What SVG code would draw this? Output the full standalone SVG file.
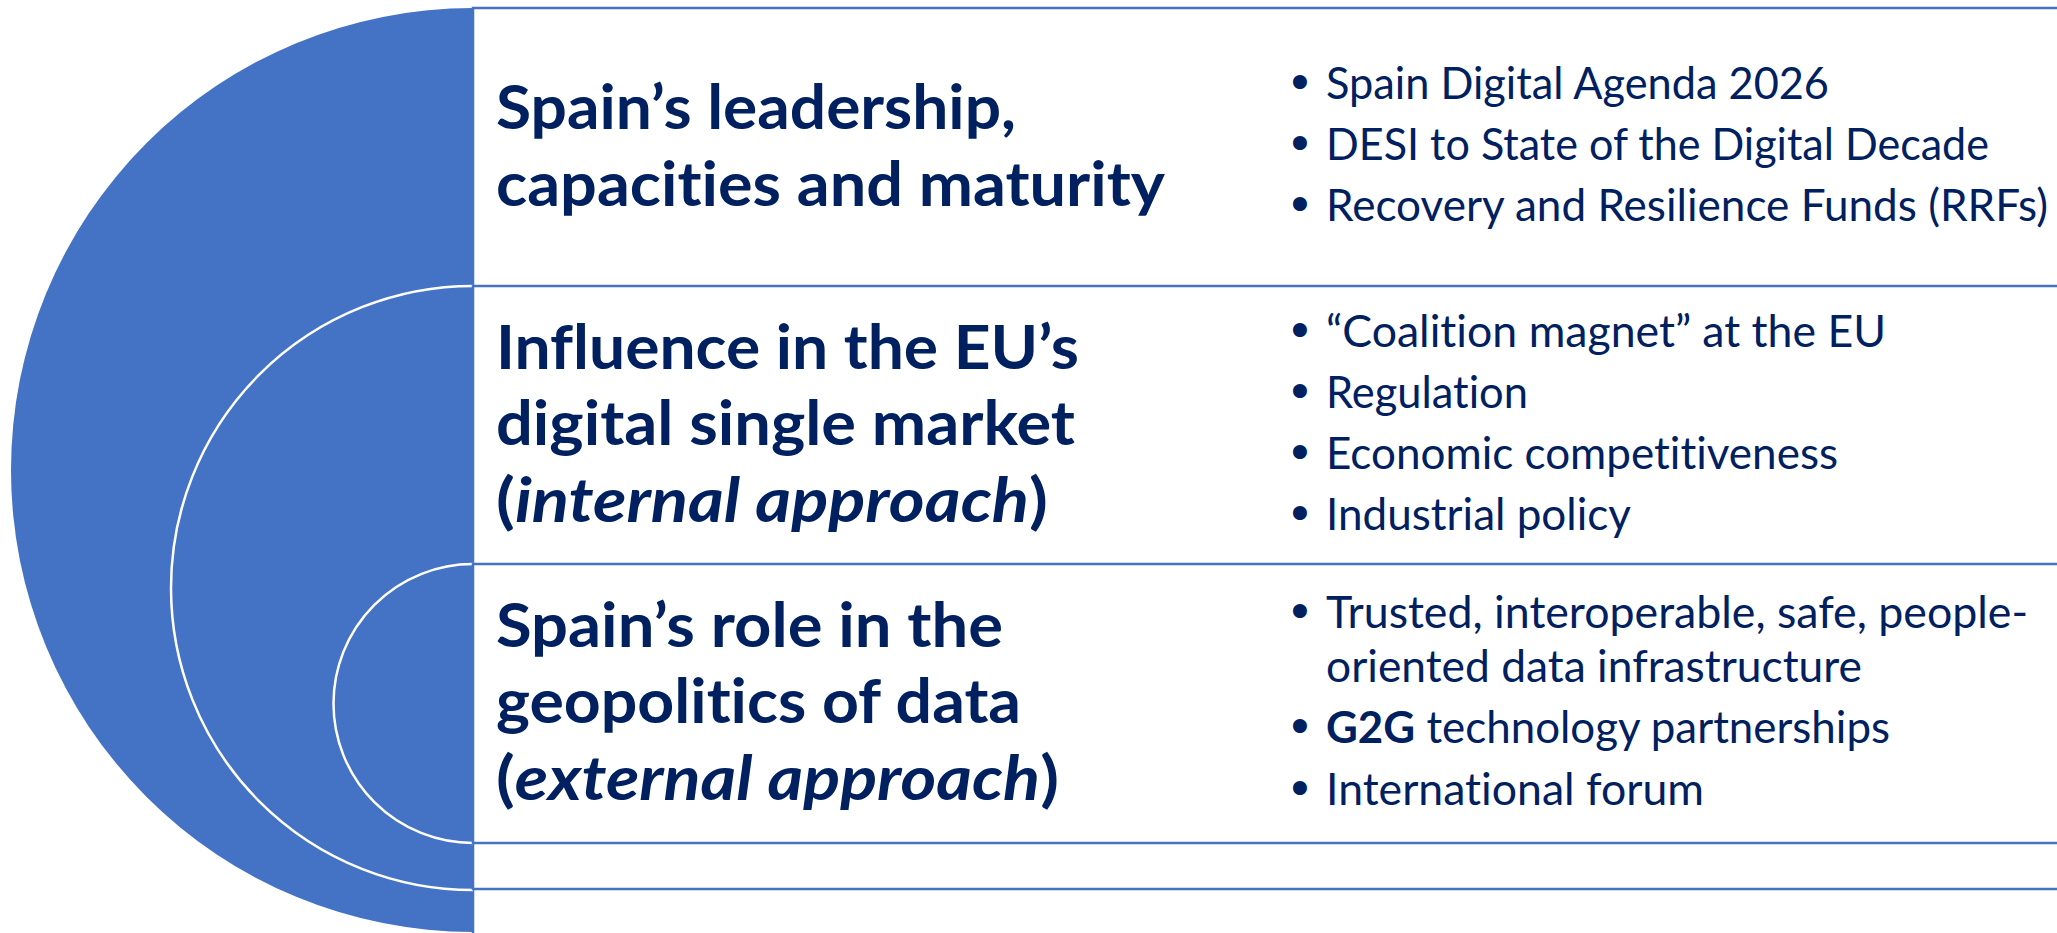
<svg xmlns="http://www.w3.org/2000/svg" width="2057" height="933" viewBox="0 0 2057 933">
<style>
.bg{fill:#ffffff}
.disc{fill:#4472C4;stroke:none}
.ring{fill:none;stroke:#ffffff;stroke-width:2.5}
.box{fill:#ffffff;stroke:#4472C4;stroke-width:2.5}
.h{font-family:Lato,"Open Sans","Liberation Sans",sans-serif;font-weight:700;font-size:62px;fill:#002060;font-variant-ligatures:none}
.h .it{font-style:italic}
.b{font-family:Lato,"Open Sans","Liberation Sans",sans-serif;font-weight:400;font-size:44px;fill:#002060;font-variant-ligatures:none}
.b .bd{font-weight:700}
.dot{font-family:"DejaVu Sans",sans-serif;font-size:48px;fill:#002060;text-anchor:middle}
</style>
<rect class="bg" x="0" y="0" width="2057" height="933"/>
<g id="node-leadership">
<path class="disc" d="M473,8 A462,462 0 0 0 473,932 Z"/>
<rect class="box" x="473" y="8" width="1700" height="960"/>
<text class="h" x="496" y="129" textLength="520" lengthAdjust="spacingAndGlyphs">Spain’s leadership,</text>
<text class="h" x="496" y="206" textLength="669" lengthAdjust="spacingAndGlyphs">capacities and maturity</text>
<text class="dot" x="1300" y="100">•</text>
<text class="b" x="1326" y="99" textLength="503" lengthAdjust="spacingAndGlyphs">Spain Digital Agenda 2026</text>
<text class="dot" x="1300" y="161">•</text>
<text class="b" x="1326" y="160" textLength="663" lengthAdjust="spacingAndGlyphs">DESI to State of the Digital Decade</text>
<text class="dot" x="1300" y="222">•</text>
<text class="b" x="1326" y="221" textLength="722" lengthAdjust="spacingAndGlyphs">Recovery and Resilience Funds (RRFs)</text>
</g>
<g id="node-internal">
<path class="disc" d="M473,286 A302,302 0 0 0 473,890 Z"/>
<path class="ring" d="M473,286 A302,302 0 0 0 473,890"/>
<rect class="box" x="473" y="286" width="1700" height="603"/>
<text class="h" x="496" y="369" textLength="583" lengthAdjust="spacingAndGlyphs">Influence in the EU’s</text>
<text class="h" x="496" y="445" textLength="579" lengthAdjust="spacingAndGlyphs">digital single market</text>
<text class="h" x="496" y="522" textLength="552" lengthAdjust="spacingAndGlyphs">(<tspan class="it">internal approach</tspan>)</text>
<text class="dot" x="1300" y="348">•</text>
<text class="b" x="1326" y="347" textLength="560" lengthAdjust="spacingAndGlyphs">“Coalition magnet” at the EU</text>
<text class="dot" x="1300" y="409">•</text>
<text class="b" x="1326" y="408" textLength="202" lengthAdjust="spacingAndGlyphs">Regulation</text>
<text class="dot" x="1300" y="470">•</text>
<text class="b" x="1326" y="469" textLength="512" lengthAdjust="spacingAndGlyphs">Economic competitiveness</text>
<text class="dot" x="1300" y="531">•</text>
<text class="b" x="1326" y="530" textLength="305" lengthAdjust="spacingAndGlyphs">Industrial policy</text>
</g>
<g id="node-external">
<path class="disc" d="M473,564 A139.5,139.5 0 0 0 473,843 Z"/>
<path class="ring" d="M473,564 A139.5,139.5 0 0 0 473,843"/>
<rect class="box" x="473" y="564" width="1700" height="279"/>
<text class="h" x="496" y="647" textLength="507" lengthAdjust="spacingAndGlyphs">Spain’s role in the</text>
<text class="h" x="496" y="723" textLength="525" lengthAdjust="spacingAndGlyphs">geopolitics of data</text>
<text class="h" x="496" y="800" textLength="563" lengthAdjust="spacingAndGlyphs">(<tspan class="it">external approach</tspan>)</text>
<text class="dot" x="1300" y="629">•</text>
<text class="b" x="1326" y="628" textLength="702" lengthAdjust="spacingAndGlyphs">Trusted, interoperable, safe, people-</text>
<text class="b" x="1326" y="682" textLength="536" lengthAdjust="spacingAndGlyphs">oriented data infrastructure</text>
<text class="dot" x="1300" y="744">•</text>
<text class="b" x="1326" y="743" textLength="564" lengthAdjust="spacingAndGlyphs"><tspan class="bd">G2G</tspan> technology partnerships</text>
<text class="dot" x="1300" y="806">•</text>
<text class="b" x="1326" y="805" textLength="378" lengthAdjust="spacingAndGlyphs">International forum</text>
</g>
</svg>
